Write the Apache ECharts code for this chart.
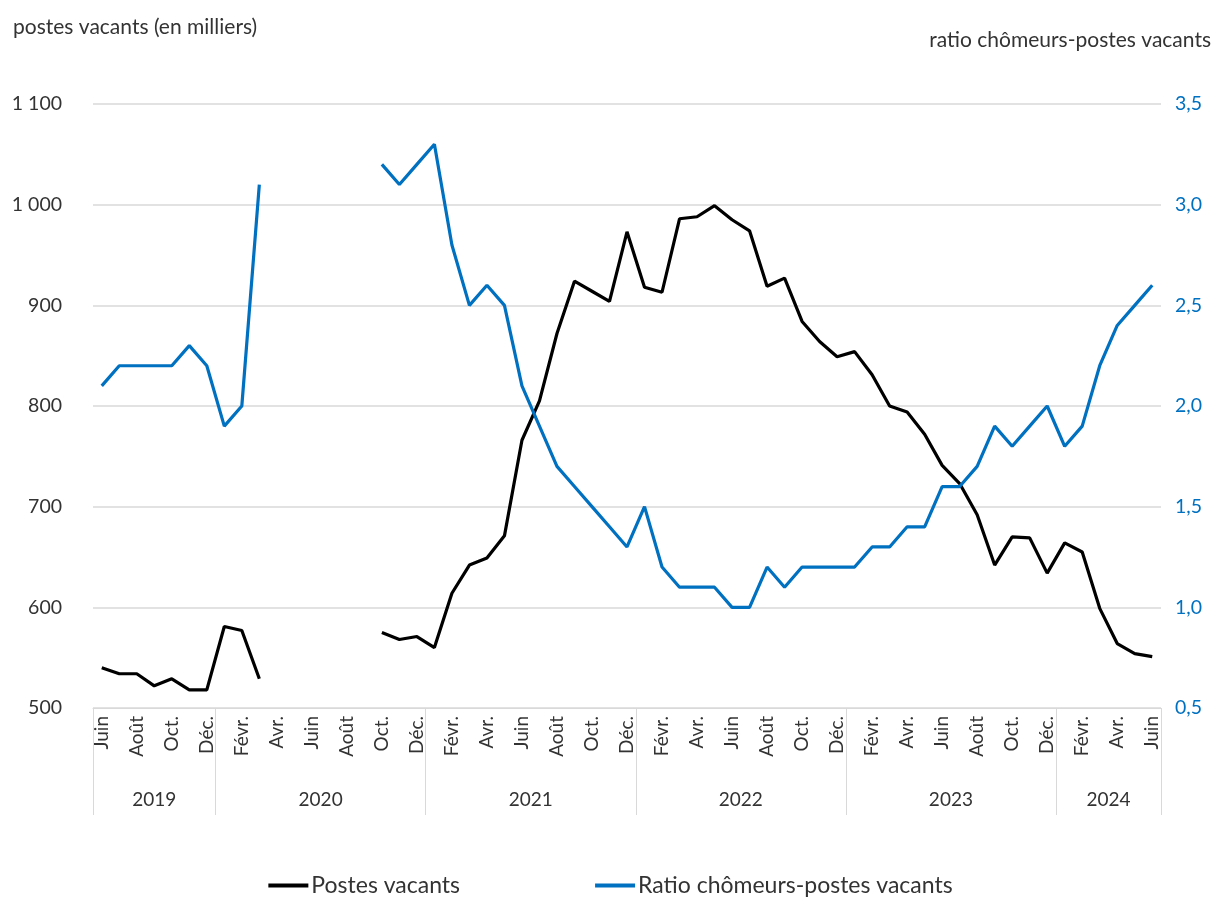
<!DOCTYPE html>
<html>
<head>
  <meta charset="UTF-8">
  <title>Postes vacants et ratio chômeurs-postes vacants</title>
  <script src="https://cdn.jsdelivr.net/npm/echarts@6/dist/echarts.min.js"></script>
  <style>
    html, body { margin: 0; padding: 0; background: #ffffff; }
    #main { width: 1221px; height: 899px; }
  </style>
</head>
<body>
  <div id="main"></div>

  <script>
    // mois de juin 2019 a juin 2024
    var months = [
      'Juin','Juil.','Août','Sept.','Oct.','Nov.','Déc.',
      'Janv.','Févr.','Mars','Avr.','Mai','Juin','Juil.','Août','Sept.','Oct.','Nov.','Déc.',
      'Janv.','Févr.','Mars','Avr.','Mai','Juin','Juil.','Août','Sept.','Oct.','Nov.','Déc.',
      'Janv.','Févr.','Mars','Avr.','Mai','Juin','Juil.','Août','Sept.','Oct.','Nov.','Déc.',
      'Janv.','Févr.','Mars','Avr.','Mai','Juin','Juil.','Août','Sept.','Oct.','Nov.','Déc.',
      'Janv.','Févr.','Mars','Avr.','Mai','Juin'
    ];
    var years = ['2019', '2020', '2021', '2022', '2023', '2024'];

    var postesVacants = [
      540, 534, 534, 522, 529, 518, 518,
      581, 577, 529, null, null, null, null, null, null, 575, 568, 571,
      560, 614, 642, 649, 671, 766, 805, 872, 924, 914, 904, 973,
      918, 913, 986, 988, 999, 985, 974, 919, 927, 884, 864, 849,
      854, 831, 800, 794, 772, 741, 723, 692, 642, 670, 669, 634,
      664, 655, 599, 564, 554, 551
    ];
    var ratio = [
      2.1, 2.2, 2.2, 2.2, 2.2, 2.3, 2.2,
      1.9, 2.0, 3.1, null, null, null, null, null, null, 3.2, 3.1, 3.2,
      3.3, 2.8, 2.5, 2.6, 2.5, 2.1, 1.9, 1.7, 1.6, 1.5, 1.4, 1.3,
      1.5, 1.2, 1.1, 1.1, 1.1, 1.0, 1.0, 1.2, 1.1, 1.2, 1.2, 1.2,
      1.2, 1.3, 1.3, 1.4, 1.4, 1.6, 1.6, 1.7, 1.9, 1.8, 1.9, 2.0,
      1.8, 1.9, 2.2, 2.4, 2.5, 2.6
    ];

    // bornes des annees (debut de chaque annee sur l'axe des mois)
    var yearBounds = [0];
    months.forEach(function (m, i) { if (m === 'Janv.') yearBounds.push(i); });
    yearBounds.push(months.length);
    var yearCenters = [];
    for (var k = 0; k < years.length; k++) {
      yearCenters.push((yearBounds[k] + yearBounds[k + 1]) / 2);
    }

    var font = 'Lato';
    var txt = '#333333';
    var blue = '#0070C0';

    var chart = echarts.init(document.getElementById('main'));

    var option = {
      backgroundColor: '#ffffff',
      textStyle: { fontFamily: font },
      animation: false,
      title: [
        {
          text: 'postes vacants (en milliers)',
          left: 8, top: 12,
          textStyle: { fontFamily: font, fontSize: 21, fontWeight: 'normal', color: txt }
        },
        {
          text: 'ratio chômeurs-postes vacants',
          right: 5, top: 25,
          textStyle: { fontFamily: font, fontSize: 21, fontWeight: 'normal', color: txt }
        }
      ],
      legend: {
        top: 874,
        left: 'center',
        padding: 0,
        itemGap: 135,
        itemWidth: 40,
        itemHeight: 4,
        icon: 'rect',
        textStyle: { fontFamily: font, fontSize: 23, color: txt, padding: [0, 0, 0, -2] },
        data: ['Postes vacants', 'Ratio chômeurs-postes vacants']
      },
      grid: { left: 93, right: 60, top: 104, bottom: 191 },
      xAxis: [
        {
          type: 'category',
          data: months,
          boundaryGap: true,
          axisLine: { lineStyle: { color: '#d9d9d9', width: 1 } },
          axisTick: { show: false },
          axisLabel: {
            interval: 1, rotate: 90, margin: 8,
            fontFamily: font, fontSize: 19, color: txt
          },
          splitLine: { show: false }
        },
        {
          type: 'value',
          position: 'bottom',
          min: 0,
          max: months.length,
          axisLine: { show: false },
          splitLine: { show: false },
          axisTick: {
            show: true, inside: false, length: 107,
            customValues: yearBounds,
            lineStyle: { color: '#d9d9d9', width: 1 }
          },
          axisLabel: {
            margin: 82,
            customValues: yearCenters,
            fontFamily: font, fontSize: 19, color: txt,
            formatter: function (v) {
              var idx = yearCenters.indexOf(v);
              return idx >= 0 ? years[idx] : '';
            }
          }
        }
      ],
      yAxis: [
        {
          type: 'value',
          min: 500, max: 1100, interval: 100,
          axisLine: { show: false },
          axisTick: { show: false },
          axisLabel: {
            margin: 31,
            fontFamily: font, fontSize: 19.5, color: txt,
            formatter: function (v) {
              return String(v).replace(/\B(?=(\d{3})+(?!\d))/g, ' ');
            }
          },
          splitLine: { lineStyle: { color: '#d9d9d9', width: 1.5 } }
        },
        {
          type: 'value',
          min: 0.5, max: 3.5, interval: 0.5,
          position: 'right',
          axisLine: { show: false },
          axisTick: { show: false },
          axisLabel: {
            margin: 14,
            fontFamily: font, fontSize: 19.5, color: blue,
            formatter: function (v) { return v.toFixed(1).replace('.', ','); }
          },
          splitLine: { show: false }
        }
      ],
      series: [
        {
          name: 'Postes vacants',
          type: 'line',
          xAxisIndex: 0,
          yAxisIndex: 0,
          data: postesVacants,
          showSymbol: false,
          symbol: 'none',
          connectNulls: false,
          itemStyle: { color: '#000000' },
          lineStyle: { color: '#000000', width: 3.2 }
        },
        {
          name: 'Ratio chômeurs-postes vacants',
          type: 'line',
          xAxisIndex: 0,
          yAxisIndex: 1,
          data: ratio,
          showSymbol: false,
          symbol: 'none',
          connectNulls: false,
          itemStyle: { color: blue },
          lineStyle: { color: blue, width: 3.2 }
        }
      ]
    };

    chart.setOption(option);
  </script>
</body>
</html>
